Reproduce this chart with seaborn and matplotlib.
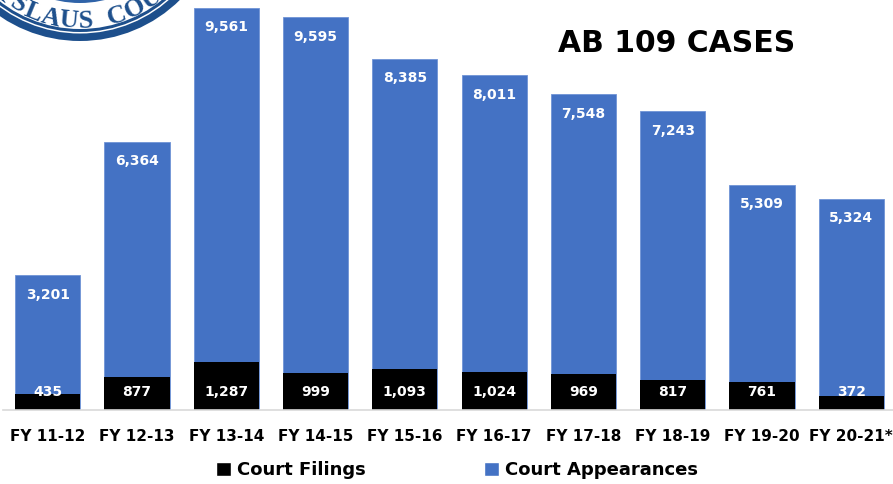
import matplotlib
matplotlib.use("Agg")
import numpy as np
import pandas as pd
import matplotlib.pyplot as plt
import seaborn as sns
from matplotlib.patches import Circle, Patch

# Fiscal years and AB 109 case counts
fiscal_years = ["FY 11-12", "FY 12-13", "FY 13-14", "FY 14-15", "FY 15-16",
                "FY 16-17", "FY 17-18", "FY 18-19", "FY 19-20", "FY 20-21*"]
court_filings = [435, 877, 1287, 999, 1093, 1024, 969, 817, 761, 372]
court_appearances = [3201, 6364, 9561, 9595, 8385, 8011, 7548, 7243, 5309, 5324]

BLUE = "#4472C4"
SEAL_DARK = "#1d4f8c"
SEAL_INNER = "#2f63a8"

sns.set_theme(style="white")
plt.rcParams["font.family"] = ["DejaVu Sans"]
plt.rcParams["text.color"] = "black"

df = pd.DataFrame({"year": fiscal_years,
                   "filings": court_filings,
                   "appearances": court_appearances})
df["total"] = df["filings"] + df["appearances"]

W, H = 893, 484
fig = plt.figure(figsize=(W / 100, H / 100), dpi=100)
fig.patch.set_facecolor("white")

# County seal peeking in from the top-left corner (pixel coordinates)
seal_ax = fig.add_axes([0, 0, 1, 1], zorder=0)
seal_ax.set_xlim(0, W)
seal_ax.set_ylim(H, 0)
seal_ax.axis("off")
cx, cy = 80, -101
for radius, color in [(142, SEAL_DARK), (134.5, "white"), (133, SEAL_DARK),
                      (130, "white"), (104, SEAL_INNER)]:
    seal_ax.add_patch(Circle((cx, cy), radius, facecolor=color, edgecolor="none"))
seal_letters = ["I", "S", "L", "A", "U", "S", "C", "O", "U"]
seal_angles = [-38, -30.5, -22.5, -14, -5.5, 2.5, 17.5, 26.5, 35.5]
r_text = 120
for ch, ang in zip(seal_letters, seal_angles):
    phi = np.radians(ang)
    seal_ax.text(cx + r_text * np.sin(phi), cy + r_text * np.cos(phi), ch,
                 rotation=ang, rotation_mode="anchor", ha="center",
                 va="center_baseline", fontsize=19, fontweight="bold",
                 color=SEAL_DARK, family=["Liberation Serif", "DejaVu Serif"])

# Stacked bars: full height in blue, filings overlaid in black
ax = fig.add_axes([3 / W, (H - 410) / H, 1.0, 410 / H], zorder=1)
ax.patch.set_alpha(0)
sns.barplot(data=df, x="year", y="total", color=BLUE, width=0.73,
            saturation=1, ax=ax, edgecolor="#6f93d6", linewidth=0.6)
sns.barplot(data=df, x="year", y="filings", color="black", width=0.73,
            saturation=1, ax=ax, edgecolor="none", linewidth=0)

ax.set_xlim(-0.5, 9.5)
ax.set_ylim(0, 11063)
ax.set_xlabel("")
ax.set_ylabel("")
ax.set_yticks([])
for side in ["top", "right", "left"]:
    ax.spines[side].set_visible(False)
ax.spines["bottom"].set_color("#d9d9d9")
ax.spines["bottom"].set_linewidth(1.2)
ax.tick_params(axis="x", length=0, pad=14, labelcolor="black")
for lbl in ax.get_xticklabels():
    lbl.set_fontsize(11)
    lbl.set_fontweight("bold")

# Value labels
for i, row in df.iterrows():
    ax.annotate(f"{row['appearances']:,}", xy=(i, row["total"]),
                xytext=(0, -14), textcoords="offset points",
                ha="center", va="center", color="white",
                fontsize=10, fontweight="bold")
    ax.annotate(f"{row['filings']:,}", xy=(i, 0),
                xytext=(0, 13), textcoords="offset points",
                ha="center", va="center", color="white",
                fontsize=10, fontweight="bold")

fig.text(677 / W, 1 - 44 / H, "AB 109 CASES", ha="center", va="center",
         fontsize=21.5, fontweight="bold", color="black")

handles = [Patch(facecolor="black", label="Court Filings"),
           Patch(facecolor=BLUE, label="Court Appearances")]
fig.legend(handles=handles, loc="center", bbox_to_anchor=(457 / W, 1 - 470 / H),
           ncol=2, frameon=False, prop={"size": 13, "weight": "bold"},
           labelcolor="black",
           handlelength=0.85, handleheight=0.85, handletextpad=0.35,
           columnspacing=6.5)

fig.savefig("out.png", dpi=100)
